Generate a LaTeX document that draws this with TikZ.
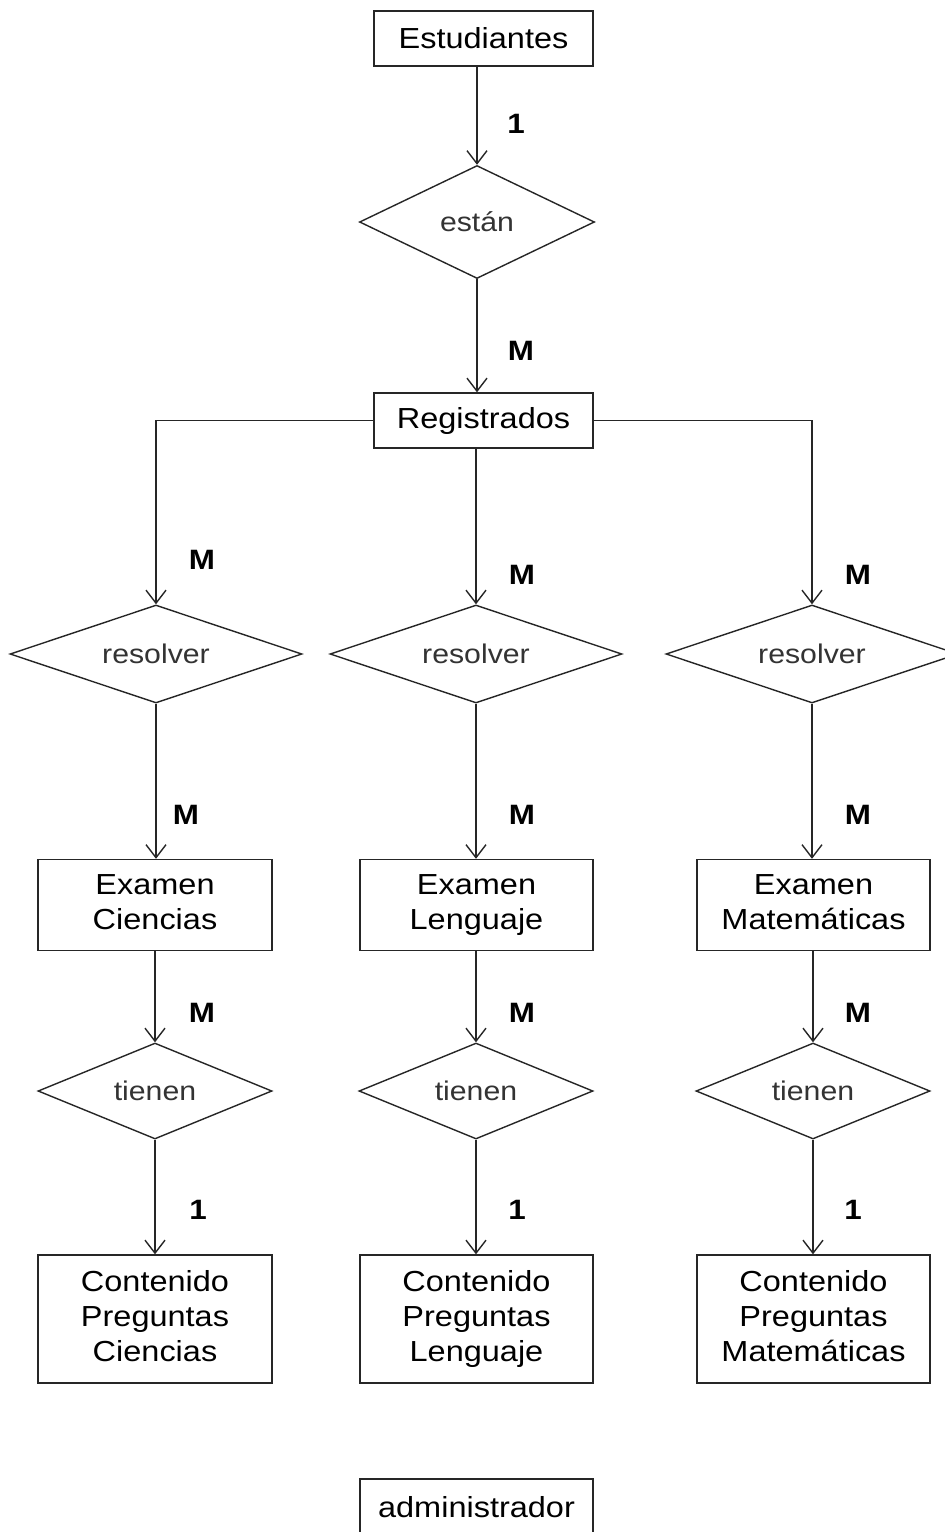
\documentclass[tikz,border=0pt]{standalone}
\usepackage{fontspec}
\setmainfont{Liberation Sans}[FakeStretch=1.12]
\usetikzlibrary{shapes.geometric,arrows.meta}
\begin{document}
\begin{tikzpicture}[x=1pt,y=-1pt,
  ent/.style={draw=black!85, line width=1.4pt, rectangle, inner sep=0pt, align=center,
              font=\fontsize{29}{35}\selectfont},
  rel/.style={draw=black!85, line width=1.4pt, diamond, inner sep=0pt, aspect=2.5,
              font=\fontsize{27}{32}\selectfont, text=black!80},
  card/.style={font=\fontsize{28}{30}\selectfont\bfseries, inner sep=0pt},
  conn/.style={draw=black!85, line width=1.4pt, -{Straight Barb[length=13pt,width=20pt,line width=1.4pt]}}
]
\useasboundingbox[fill=white] (0,0) rectangle (945,1532);

% entities and relations
\node[ent, minimum width=219pt, minimum height=55pt] (est) at (483.5,38.5) {Estudiantes};
\node[rel, minimum width=235pt, minimum height=113pt] (estan) at (477,222) {están};
\node[ent, minimum width=219pt, minimum height=55pt] (reg) at (483.5,420.5) {Registrados};

\node[rel, minimum width=292pt, minimum height=98pt] (resC) at (156,654) {resolver};
\node[rel, minimum width=292pt, minimum height=98pt] (resL) at (476,654) {resolver};
\node[rel, minimum width=292pt, minimum height=98pt] (resM) at (812,654) {resolver};

\node[ent, minimum width=234pt, minimum height=91pt] (exC) at (155,905) {Examen\\Ciencias\vphantom{g}};
\node[ent, minimum width=233pt, minimum height=91pt] (exL) at (476.5,905) {Examen\\Lenguaje};
\node[ent, minimum width=233pt, minimum height=91pt] (exM) at (813.5,905) {Examen\\Matemáticas\vphantom{g}};

\node[rel, minimum width=234pt, minimum height=96pt] (tC) at (155,1091) {tienen};
\node[rel, minimum width=234pt, minimum height=96pt] (tL) at (476,1091) {tienen};
\node[rel, minimum width=234pt, minimum height=96pt] (tM) at (813,1091) {tienen};

\node[ent, minimum width=234pt, minimum height=128pt] (cC) at (155,1319) {Contenido\\Preguntas\\Ciencias\vphantom{g}};
\node[ent, minimum width=233pt, minimum height=128pt] (cL) at (476.5,1319) {Contenido\\Preguntas\\Lenguaje};
\node[ent, minimum width=233pt, minimum height=128pt] (cM) at (813.5,1319) {Contenido\\Preguntas\\Matemáticas\vphantom{g}};

\node[ent, minimum width=233pt, minimum height=57pt] (adm) at (476.5,1507.5) {administrador};

% connectors
\draw[conn] (est.south -| estan.north) -- (estan.north);
\draw[conn] (estan.south) -- (reg.north -| estan.south);
\draw[conn] (reg.west) -| (resC.north);
\draw[conn] (reg.east) -| (resM.north);
\draw[conn] (reg.south -| resL.north) -- (resL.north);

\draw[conn] (resC.south) -- (exC.north -| resC.south);
\draw[conn] (resL.south) -- (exL.north -| resL.south);
\draw[conn] (resM.south) -- (exM.north -| resM.south);

\draw[conn] (exC.south -| tC.north) -- (tC.north);
\draw[conn] (exL.south -| tL.north) -- (tL.north);
\draw[conn] (exM.south -| tM.north) -- (tM.north);

\draw[conn] (tC.south) -- (cC.north -| tC.south);
\draw[conn] (tL.south) -- (cL.north -| tL.south);
\draw[conn] (tM.south) -- (cM.north -| tM.south);

% cardinalities
\node[card] (k1) at (516,124) {1};
\node[card] (k2) at (521,351) {M};
\node[card] (k3) at (202,560) {M};
\node[card] (k4) at (522,575) {M};
\node[card] (k5) at (858,575) {M};
\node[card] (k6) at (186,815) {M};
\node[card] (k7) at (522,815) {M};
\node[card] (k8) at (858,815) {M};
\node[card] (k9) at (202,1013) {M};
\node[card] (k10) at (522,1013) {M};
\node[card] (k11) at (858,1013) {M};
\node[card] (k12) at (198,1210) {1};
\node[card] (k13) at (517,1210) {1};
\node[card] (k14) at (853,1210) {1};
\end{tikzpicture}
\end{document}
